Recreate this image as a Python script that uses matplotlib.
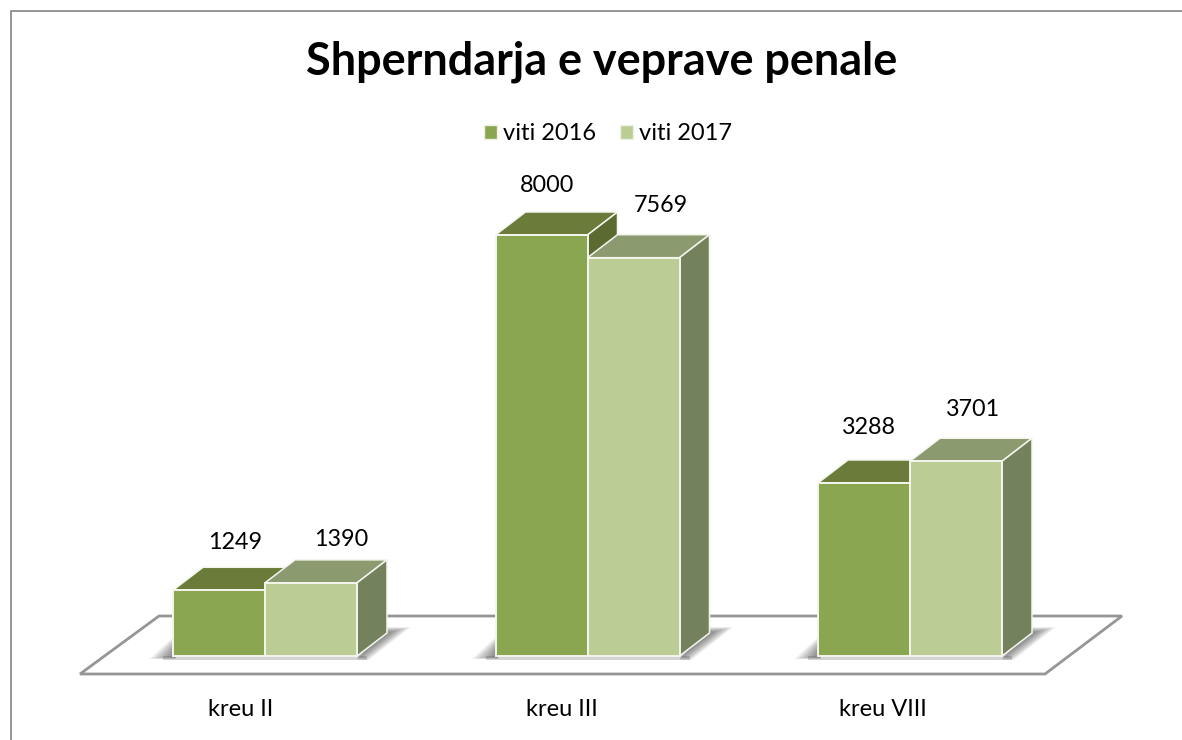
import numpy as np
import matplotlib.pyplot as plt
from matplotlib.patches import Patch, Polygon

plt.rcParams["font.family"] = ["Lato", "DejaVu Sans"]

title = "Shperndarja e veprave penale"
categories = ["kreu II", "kreu III", "kreu VIII"]
series_names = ["viti 2016", "viti 2017"]
values_2016 = [1249, 8000, 3288]
values_2017 = [1390, 7569, 3701]

# pixel layout of the picture
width_px, height_px = 1182, 740
base_px = 656
first_px = 265
step_px = 322.5
bar_px = 92
depth_x_px, depth_y_px = 30, 23
y_scale = 421 / 8000  # pixels per case

# label nudges in pixels, relative to the front top centre of each bar
label_nudge_2016 = [(16, 48), (6, 49), (5, 55)]
label_nudge_2017 = [(30, 43), (27, 52), (17, 52)]
category_nudge = [-24, -26, -27]

front = ["#8AA650", "#BBCC95"]
top = ["#6A7B3A", "#8C9A70"]
side = ["#5A6A30", "#73815C"]


def soft_shadow(ax, outer, inner, steps=16, alpha=0.045):
    outer = np.array(outer, dtype=float)
    inner = np.array(inner, dtype=float)
    for k in range(steps):
        t = k / (steps - 1)
        ax.add_patch(Polygon(outer + (inner - outer) * t, closed=True, facecolor="#333333",
                             edgecolor="none", alpha=alpha, zorder=3))


fig = plt.figure(figsize=(width_px / 100, height_px / 100), dpi=100)

# background layer in plain pixels: frame, floor, shadows
bg = fig.add_axes([0, 0, 1, 1])
bg.set_xlim(0, width_px)
bg.set_ylim(height_px, 0)
bg.axis("off")
bg.plot([11, 11, width_px], [height_px, 10.5, 10.5], color="#8c8c8c", lw=1.3, zorder=1)
bg.add_patch(Polygon([(80, 674), (1045, 674), (1122, 616), (159, 616)], closed=True,
                     facecolor="white", edgecolor="#969696", lw=2, zorder=2))
for i in range(3):
    left = first_px + step_px * i - bar_px
    right = first_px + step_px * i + bar_px
    soft_shadow(bg, [(left - 24, 659), (left, 637), (left + 3, 637), (left + 3, 659)],
                [(left - 2, 657), (left, 650), (left + 2, 650), (left + 2, 657)])
    soft_shadow(bg, [(right, 660), (right + 12, 660), (right + 54, 627), (right + 30, 627)],
                [(right, 656), (right + 3, 656), (right + 34, 632), (right + 30, 632)])
    bg.fill_between([left - 10, right + 10], 656, 660, color="#555555", alpha=0.25, lw=0, zorder=3)

# chart layer, scaled so that the values land on the picture
ax = fig.add_axes([0, 0, 1, 1], facecolor="none")
ax.set_xlim(-first_px / step_px, (width_px - first_px) / step_px)
ax.set_ylim(-(height_px - base_px) / y_scale, base_px / y_scale)
ax.axis("off")

x = np.arange(len(categories))
bar_w = bar_px / step_px
dx = depth_x_px / step_px
dy = depth_y_px / y_scale

for i in range(len(categories)):
    for j, vals in enumerate([values_2016, values_2017]):
        x0 = x[i] + (j - 1) * bar_w
        x1 = x0 + bar_w
        v = vals[i]
        z = 5 + j
        ax.add_patch(Polygon([(x0, v), (x1, v), (x1 + dx, v + dy), (x0 + dx, v + dy)], closed=True,
                             facecolor=top[j], edgecolor="#f4f6ee", lw=1.1, zorder=z))
        ax.add_patch(Polygon([(x1, 0), (x1 + dx, dy), (x1 + dx, v + dy), (x1, v)], closed=True,
                             facecolor=side[j], edgecolor="#f4f6ee", lw=1.1, zorder=z))
        ax.bar(x0, v, width=bar_w, align="edge", color=front[j], edgecolor="#f4f6ee", lw=1.4, zorder=z)

for i in range(len(categories)):
    for j, (vals, nudges) in enumerate([(values_2016, label_nudge_2016), (values_2017, label_nudge_2017)]):
        cx = x[i] + (j - 0.5) * bar_w
        ax.annotate(str(vals[i]), (cx, vals[i]), xytext=nudges[i], textcoords="offset pixels",
                    ha="center", va="center", fontsize=16.8, color="black", zorder=10)
    ax.annotate(categories[i], (x[i], 0), xytext=(category_nudge[i], -53), textcoords="offset pixels",
                ha="center", va="center", fontsize=17, color="black")

fig.text(602 / width_px, 1 - 62 / height_px, title, ha="center", va="center",
         fontsize=32.4, fontweight="bold", color="black")

handles = [Patch(facecolor=front[0], edgecolor="#eef1e4", label=series_names[0]),
           Patch(facecolor=front[1], edgecolor="#eef1e4", label=series_names[1])]
fig.legend(handles=handles, loc="center", bbox_to_anchor=(608 / width_px, 1 - 134 / height_px),
           ncol=2, frameon=False, fontsize=17, handlelength=0.55, handleheight=0.55,
           handletextpad=0.25, columnspacing=1.05)

fig.savefig("out.png", dpi=100)
